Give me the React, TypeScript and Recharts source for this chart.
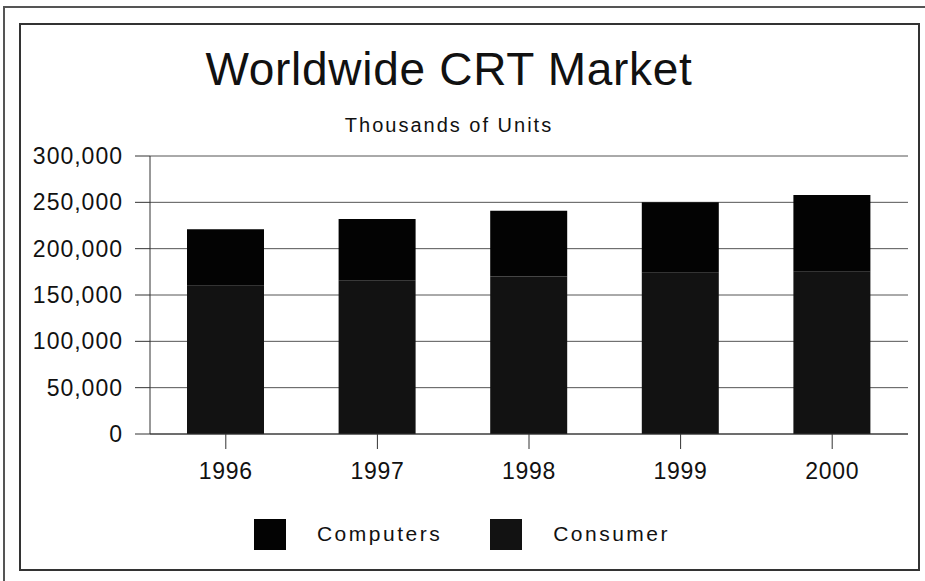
import { Bar, BarChart, CartesianGrid, Legend, XAxis, YAxis } from 'recharts';

const years = ['1996', '1997', '1998', '1999', '2000'];
const consumer = [160000, 166000, 170000, 174000, 175000];
const computers = [61000, 66000, 71000, 76000, 83000];
const yTicks = [0, 50000, 100000, 150000, 200000, 250000, 300000];
const legendOrder = ['Computers', 'Consumer'];

const data = years.map((year, i) => ({
	year,
	Consumer: consumer[i],
	Computers: computers[i],
}));

const font = '"Liberation Sans", Arial, Helvetica, sans-serif';

const colors: Record<string, string> = {
	Computers: '#030303',
	Consumer: '#121212',
};

function CrtLegend() {
	return (
		<div
			style={{
				display: 'flex',
				justifyContent: 'center',
				alignItems: 'center',
				height: 50,
				paddingLeft: 16,
				fontFamily: font,
				fontSize: 21,
				letterSpacing: 2.5,
				color: '#111',
			}}
		>
			{legendOrder.map((name, i) => (
				<div
					key={name}
					style={{
						display: 'flex',
						alignItems: 'center',
						marginLeft: i === 0 ? 0 : 48,
					}}
				>
					<div
						style={{
							width: 32,
							height: 31,
							background: colors[name],
							marginRight: 31,
						}}
					/>
					<span>{name}</span>
				</div>
			))}
		</div>
	);
}

export default function App() {
	return (
		<div
			style={{
				position: 'absolute',
				left: 0,
				top: 0,
				width: 925,
				height: 581,
				overflow: 'hidden',
				background: '#fff',
				fontFamily: font,
			}}
		>
			<div
				style={{
					position: 'absolute',
					left: 3,
					top: 6,
					width: 960,
					height: 620,
					border: '2px solid #555',
					boxSizing: 'border-box',
				}}
			/>
			<div
				style={{
					position: 'absolute',
					left: 19,
					top: 23,
					width: 901,
					height: 548,
					border: '2px solid #333',
					boxSizing: 'border-box',
				}}
			/>
			<div
				style={{
					position: 'absolute',
					left: 0,
					width: 898,
					top: 42,
					textAlign: 'center',
					fontSize: 46,
					letterSpacing: 0.7,
					color: '#111',
				}}
			>
				Worldwide CRT Market
			</div>
			<div
				style={{
					position: 'absolute',
					left: 0,
					width: 898,
					top: 114,
					textAlign: 'center',
					fontSize: 20,
					letterSpacing: 2,
					color: '#111',
				}}
			>
				Thousands of Units
			</div>
			<div style={{ position: 'absolute', left: 0, top: 0 }}>
				<BarChart
					width={925}
					height={581}
					data={data}
					margin={{ top: 156, right: 17, left: 0, bottom: 22 }}
					barSize={77}
				>
					<CartesianGrid vertical={false} stroke="#555" />
					<XAxis
						dataKey="year"
						height={75}
						tickSize={15}
						tickMargin={14}
						stroke="#333"
						tick={{ fill: '#111', fontSize: 23, fontFamily: font, letterSpacing: 0.7 }}
					/>
					<YAxis
						width={150}
						domain={[0, 300000]}
						ticks={yTicks}
						tickSize={15}
						tickMargin={12}
						stroke="#333"
						tickFormatter={(v: number) => v.toLocaleString('en-US')}
						tick={{ fill: '#111', fontSize: 23, fontFamily: font, letterSpacing: 1 }}
					/>
					<Legend verticalAlign="bottom" content={<CrtLegend />} />
					<Bar dataKey="Consumer" stackId="a" fill={colors.Consumer} isAnimationActive={false} />
					<Bar dataKey="Computers" stackId="a" fill={colors.Computers} isAnimationActive={false} />
				</BarChart>
			</div>
		</div>
	);
}
